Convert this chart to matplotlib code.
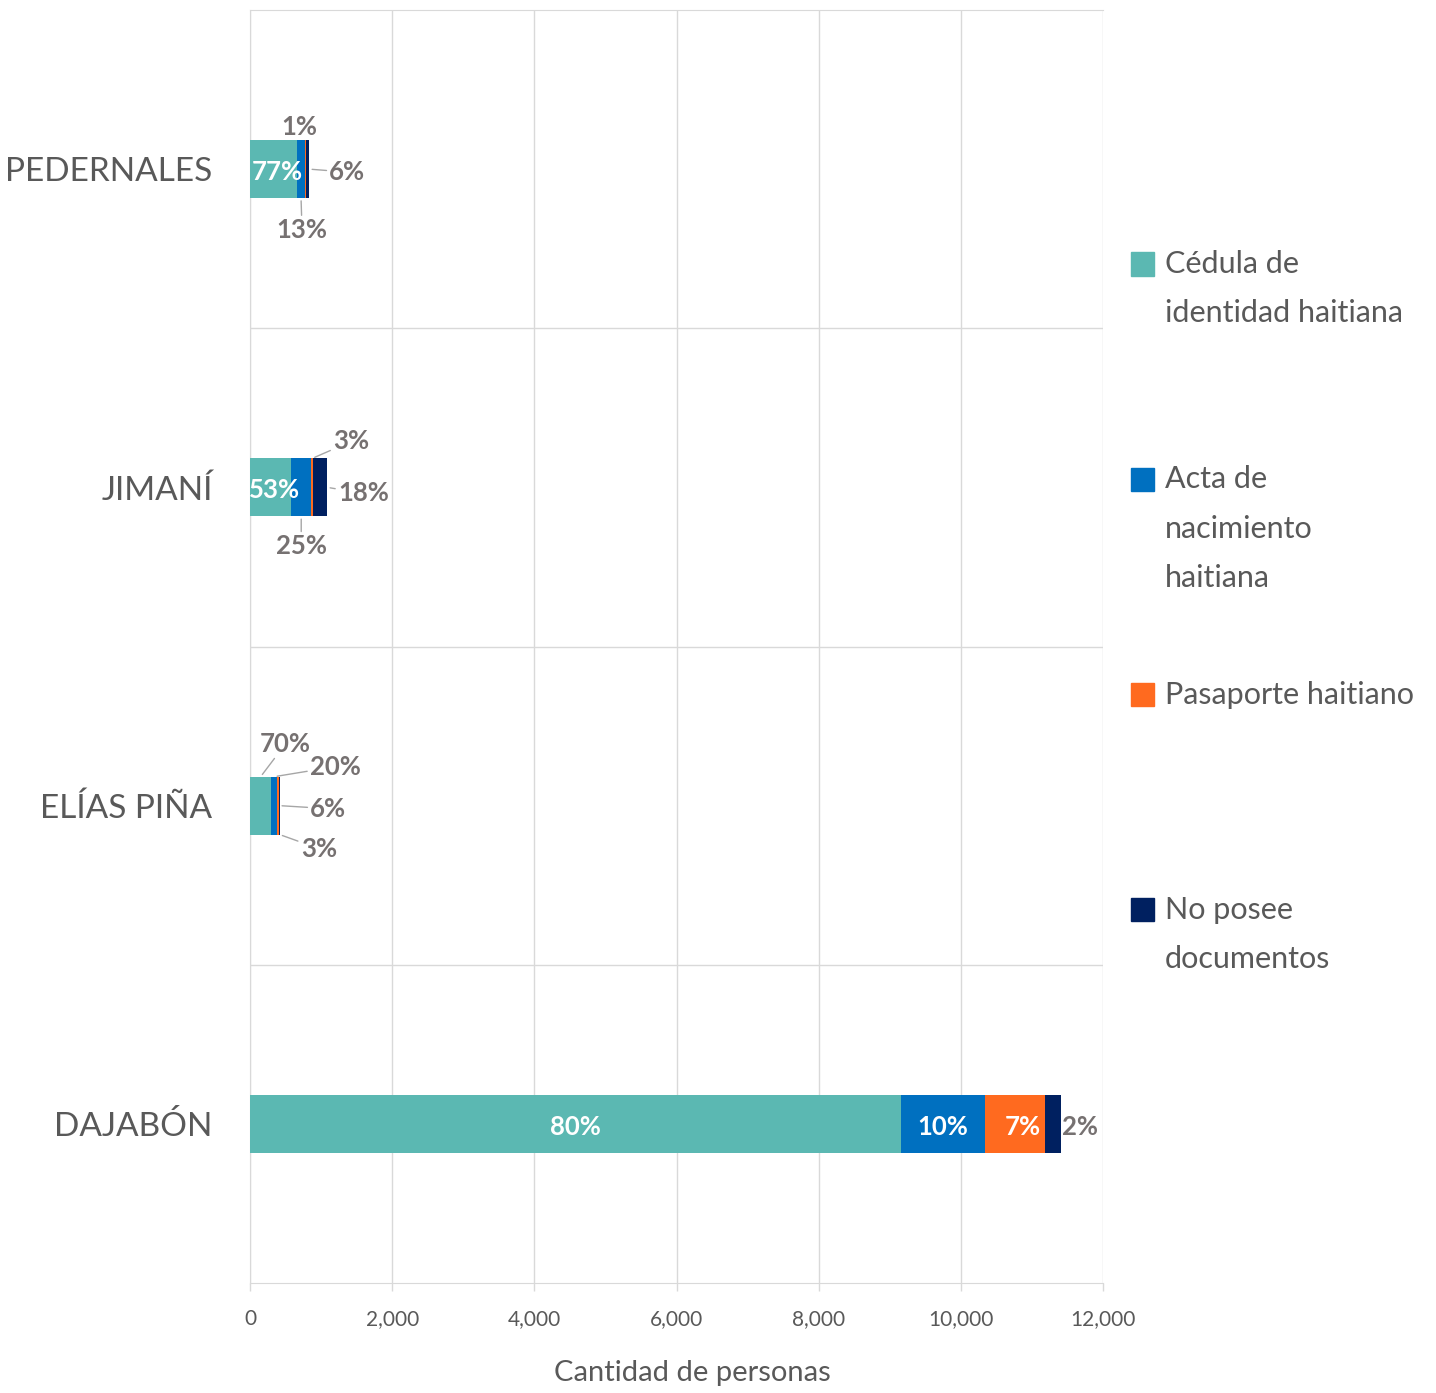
import matplotlib
matplotlib.use('Agg')
import matplotlib.pyplot as plt
from matplotlib.patches import Rectangle
from matplotlib.ticker import FuncFormatter

plt.rcParams['font.family'] = ['Lato', 'DejaVu Sans']

# --- Datos ---
municipios = ['PEDERNALES', 'JIMANÍ', 'ELÍAS PIÑA', 'DAJABÓN']
series = ['Cédula de\nidentidad haitiana', 'Acta de\nnacimiento\nhaitiana',
          'Pasaporte haitiano', 'No posee\ndocumentos']
colores = ['#5BB8B2', '#0070C0', '#FF6A1F', '#002060']

cedula = [662, 583, 300, 9156]
acta = [112, 275, 86, 1184]
pasaporte = [9, 33, 26, 844]
sin_documento = [52, 198, 13, 223]

pct_cedula = [77, 53, 70, 80]
pct_acta = [13, 25, 20, 10]
pct_pasaporte = [1, 3, 6, 7]
pct_sin_documento = [6, 18, 3, 2]

valores = [cedula, acta, pasaporte, sin_documento]
porcentajes = [pct_cedula, pct_acta, pct_pasaporte, pct_sin_documento]

# posicion de etiquetas: (fila, serie) -> (ancla x, ancla y, dx px, dy px, linea guia)
# sin entrada = etiqueta blanca dentro de la barra
etiquetas_fuera = {
    (0, 1): ('c', 'bot', 1, -32, True),
    (0, 2): ('c', 'top', -6, 13, False),
    (0, 3): ('r', 'c', 38, -3, True),
    (1, 1): ('c', 'bot', 0, -30, True),
    (1, 2): ('c', 'top', 39, 17, True),
    (1, 3): ('r', 'c', 36, -6, True),
    (2, 0): ('c', 'top', 25, 33, True),
    (2, 1): ('c', 'top', 61, 10, True),
    (2, 2): ('r', 'c', 49, -3, True),
    (2, 3): ('c', 'bot', 39, -14, True),
    (3, 3): ('r', 'c', 19, -3, False),
}
ajuste_dentro = {(0, 0): 4, (1, 0): 4, (3, 2): 8}

W, H = 1436, 1393
fig = plt.figure(figsize=(W / 100, H / 100), dpi=100)
ax = fig.add_axes([250 / W, 1 - 1283 / H, 853 / W, 1273 / H])

alto = 0.182
gris = '#D9D9D9'
texto = '#595959'
gris_etq = '#767171'

izq = [0] * len(municipios)
for j, vals in enumerate(valores):
    barras = ax.barh(range(len(municipios)), vals, left=izq, height=alto,
                     color=colores[j], edgecolor='none', zorder=3)
    for i, b in enumerate(barras):
        x0 = b.get_x()
        x1 = x0 + b.get_width()
        etq = f'{porcentajes[j][i]}%'
        if (i, j) in etiquetas_fuera:
            ax_x, ax_y, dx, dy, guia = etiquetas_fuera[(i, j)]
            xa = x1 if ax_x == 'r' else (x0 + x1) / 2
            ya = {'c': i, 'top': i - alto / 2, 'bot': i + alto / 2}[ax_y]
            props = None
            if guia:
                props = dict(arrowstyle='-', color='#A6A6A6', lw=1,
                             shrinkA=0, shrinkB=2)
            ax.annotate(etq, xy=(xa, ya), xytext=(dx, dy),
                        textcoords='offset pixels', ha='center', va='center',
                        fontsize=18.5, fontweight='bold', color=gris_etq,
                        arrowprops=props, zorder=4)
        else:
            ax.annotate(etq, xy=((x0 + x1) / 2, i),
                        xytext=(ajuste_dentro.get((i, j), 0), -3),
                        textcoords='offset pixels', ha='center', va='center',
                        fontsize=18.5, fontweight='bold', color='white', zorder=4)
    izq = [a + b for a, b in zip(izq, vals)]

ax.set_xlim(0, 12000)
ax.set_ylim(3.5, -0.5)
ax.set_xticks(range(0, 12001, 2000))
ax.xaxis.set_major_formatter(FuncFormatter(lambda v, p: f'{int(v):,}'))
ax.set_yticks(range(len(municipios)))
ax.set_yticklabels(municipios)
ax.set_yticks([0.5, 1.5, 2.5], minor=True)
ax.tick_params(axis='y', which='both', length=0, pad=27, labelsize=24, labelcolor=texto)
ax.tick_params(axis='x', length=6, width=1, color=gris, pad=13, labelsize=15,
               labelcolor=texto)
ax.grid(axis='x', color=gris, lw=1, zorder=0)
ax.grid(axis='y', which='minor', color=gris, lw=1, zorder=0)
for lado in ['left', 'top', 'bottom']:
    ax.spines[lado].set_color(gris)
ax.spines['right'].set_visible(False)

ax.set_xlabel('Cantidad de personas', fontsize=21, color=texto)
ax.xaxis.set_label_coords((692 - 250) / 853, -(1360 - 1283) / 1273)

# leyenda manual
y0 = 264
for j, nombre in enumerate(series):
    yy = y0 + j * 215.3
    fig.patches.append(Rectangle((1131 / W, 1 - (yy + 11.5) / H), 23 / W, 23 / H,
                                 transform=fig.transFigure, color=colores[j]))
    for k, linea in enumerate(nombre.split('\n')):
        fig.text(1165 / W, 1 - (yy + k * 49.5) / H, linea, fontsize=22,
                 color=texto, va='center', ha='left')

fig.savefig('out.png', dpi=100)
